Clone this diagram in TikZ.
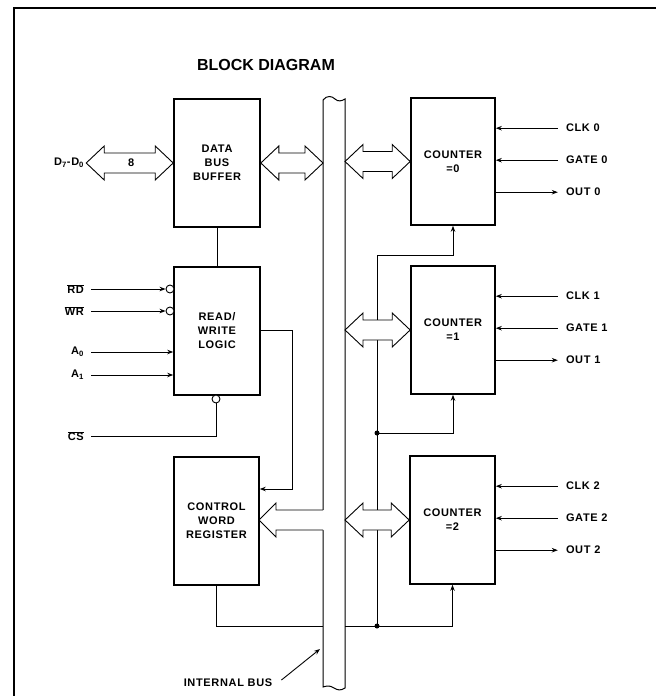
\documentclass[tikz,border=0pt]{standalone}
\usepackage{fontspec}
\setmainfont{Liberation Sans}
\newfontfamily\lblfont[LetterSpace=6]{Liberation Sans}
\usetikzlibrary{calc,arrows.meta}
\newcommand\hollowdbl[2]{%
  \draw[hol] let \p1=#1, \p2=#2 in
    (\x1,\y1) -- ++(18pt,17pt) -- ++(0pt,-7pt) -- (\x2-18pt,\y1+10pt)
    -- ++(0pt,7pt) -- (\x2,\y1) -- ++(-18pt,-17pt) -- ++(0pt,7pt)
    -- (\x1+18pt,\y1-10pt) -- ++(0pt,-7pt) -- cycle;}
\begin{document}
\begin{tikzpicture}[x=1pt,y=-1pt,
  blk/.style={draw, line width=1.6pt, fill=white, minimum width=86pt,
    minimum height=128pt, align=center, inner sep=0pt,
    font=\lblfont\bfseries\fontsize{11}{14}\selectfont},
  lbl/.style={inner sep=0pt, font=\lblfont\bfseries\fontsize{11}{13}\selectfont},
  wire/.style={line width=0.9pt},
  sig/.style={line width=0.9pt, -{Stealth[length=6pt,width=4.5pt]}},
  hol/.style={line width=0.9pt, fill=white, line join=miter},
  bub/.style={draw, circle, line width=0.9pt, fill=white, minimum size=8pt, inner sep=0pt},
  dot/.style={circle, fill, inner sep=0pt, minimum size=5pt}]
\useasboundingbox (0,0) rectangle (656,696);
% frame
\draw[line width=2pt] (14,696) -- (14,8) -- (656,8);
% title
\node[font=\bfseries\fontsize{16}{18}\selectfont] (title) at (266,65) {BLOCK DIAGRAM};
% reference coordinates of the bus edges
\coordinate (busL) at (323,0);
\coordinate (busR) at (345,0);
% blocks (positions)
\node[blk] (dbb) at (217,163) {DATA\\BUS\\BUFFER};
\node[blk] (rw)  at (217,331) {READ/\\WRITE\\LOGIC};
\node[blk, minimum width=85pt] (cwr) at (216.5,521) {CONTROL\\WORD\\REGISTER};
\node[blk, minimum width=84pt, minimum height=127pt] (c0) at (453,161.5) {COUNTER\\=0};
\node[blk, minimum width=84pt] (c1) at (453,330) {COUNTER\\=1};
\node[blk, minimum width=85pt] (c2) at (452.5,520) {COUNTER\\=2};
% internal control wiring (drawn before the bus so the bus covers it)
\coordinate (jb) at (377,626);
\coordinate (j1) at (377,433);
\draw[wire] (cwr.south) |- (jb);
\draw[sig] (jb) -| (c2.south);
\draw[sig] (jb) -- (377,255) -| (c0.south);
\draw[sig] (j1) -| (c1.south);
\node[dot] (jbd) at (jb) {};
\node[dot] (j1d) at (j1) {};
% bus
\draw[line width=1pt, fill=white] (323,100) .. controls (327,95) and (332,96) .. (335,99)
  .. controls (338,102) and (342,101) .. (345,99) -- (345,688)
  .. controls (341,691) and (337,690) .. (334,688)
  .. controls (330,685) and (326,686) .. (323,687) -- cycle;
\draw[wire] (jb -| busR) -- (jb);
% hollow bus arrows
\coordinate (d7) at ($(dbb.west)+(-87,0)$);
\hollowdbl{(d7)}{(dbb.west)}
\hollowdbl{(dbb.east)}{(dbb.east -| busL)}
\hollowdbl{(c0.west -| busR)}{(c0.west)}
\hollowdbl{(c1.west -| busR)}{(c1.west)}
\hollowdbl{(c2.west -| busR)}{(c2.west)}
\node[lbl] (eight) at ($(d7)+(45,0)$) {8};
% bus -> control word register (single hollow arrow opening into the bus)
\coordinate (cwin) at (259,520);
\fill[white] let \p1=(cwin), \p2=(cwin -| busL) in
  (\x1,\y1) -- ++(17pt,17pt) -- ++(0pt,-7pt) -- (\x2+1pt,\y1+10pt) -- (\x2+1pt,\y1-10pt)
  -- (\x1+17pt,\y1-10pt) -- ++(0pt,-7pt) -- cycle;
\draw[line width=0.9pt, line join=miter] let \p1=(cwin), \p2=(cwin -| busL) in
  (\x2,\y1+10pt) -- (\x1+17pt,\y1+10pt) -- ++(0pt,7pt) -- (\x1,\y1)
  -- ++(17pt,-17pt) -- ++(0pt,7pt) -- (\x2,\y1-10pt);
% data bus label
\node[lbl, anchor=east] (dlbl) at ($(d7)+(-2,0)$) {D\textsubscript{7}-D\textsubscript{0}};
% DBB to R/W logic
\draw[wire] (dbb.south) -- (rw.north);
% R/W logic to control word register
\draw[sig] (rw.east |- 0,330) -- (292,330) |- (cwr.east |- 0,489);
% left inputs
\node[bub] (rdb) at (170,289) {};
\node[bub] (wrb) at (170,311) {};
\node[bub] (csb) at (216,399) {};
\node[lbl, anchor=east] (rdl) at (84,289) {$\overline{\hbox{RD}}$};
\node[lbl, anchor=east] (wrl) at (84,311) {$\overline{\hbox{WR}}$};
\node[lbl, anchor=east] (a0l) at (84,352) {A\textsubscript{0}};
\node[lbl, anchor=east] (a1l) at (84,375) {A\textsubscript{1}};
\node[lbl, anchor=east] (csl) at (84,436) {$\overline{\hbox{CS}}$};
\draw[sig] ($(rdl.east)+(7,0)$) -- (rdb.west);
\draw[sig] ($(wrl.east)+(7,0)$) -- (wrb.west);
\draw[sig] ($(a0l.east)+(7,0)$) -- (a0l -| rw.west);
\draw[sig] ($(a1l.east)+(7,0)$) -- (a1l -| rw.west);
\draw[wire] ($(csl.east)+(7,0)$) -| (csb.south);
% counter I/O
\foreach \c/\n in {c0/0,c1/1,c2/2}{
  \node[lbl, anchor=west] (clk\n) at ($(\c.north east)+(70,31)$) {CLK \n};
  \node[lbl, anchor=west] (gate\n) at ($(\c.north east)+(70,63)$) {GATE \n};
  \node[lbl, anchor=west] (out\n) at ($(\c.north east)+(70,95)$) {OUT \n};
  \draw[sig] ($(clk\n.west)+(-8,0)$) -- (clk\n.west -| \c.east);
  \draw[sig] ($(gate\n.west)+(-8,0)$) -- (gate\n.west -| \c.east);
  \draw[sig] (out\n.west -| \c.east) -- ($(out\n.west)+(-8,0)$);
}
% internal bus label
\node[lbl] (ibus) at (228,683) {INTERNAL BUS};
\coordinate (ibt) at (320,649);
\draw[sig] ($(ibus.east)+(9,-3)$) -- (ibt);
\end{tikzpicture}
\end{document}
